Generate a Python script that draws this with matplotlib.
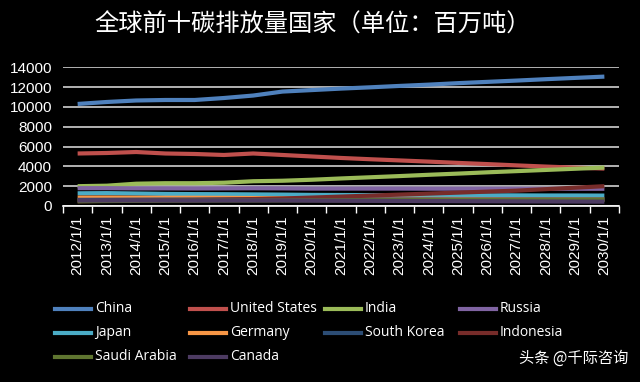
import matplotlib
matplotlib.use("Agg")
import matplotlib.pyplot as plt
from matplotlib.lines import Line2D

plt.rcParams['font.family'] = ['Noto Sans CJK SC', 'DejaVu Sans']

years = ["2012/1/1", "2013/1/1", "2014/1/1", "2015/1/1", "2016/1/1", "2017/1/1",
         "2018/1/1", "2019/1/1", "2020/1/1", "2021/1/1", "2022/1/1", "2023/1/1",
         "2024/1/1", "2025/1/1", "2026/1/1", "2027/1/1", "2028/1/1", "2029/1/1",
         "2030/1/1"]

china = [10300, 10500, 10650, 10700, 10700, 10900, 11150, 11550, 11700, 11850,
         11980, 12120, 12250, 12400, 12530, 12660, 12800, 12930, 13060]
united_states = [5300, 5350, 5450, 5300, 5250, 5150, 5300, 5150, 5000, 4850,
                 4720, 4600, 4480, 4350, 4230, 4100, 3980, 3870, 3780]
india = [2000, 2050, 2250, 2300, 2300, 2350, 2500, 2550, 2650, 2780,
         2900, 3020, 3150, 3270, 3400, 3520, 3640, 3760, 3880]
russia = [1800, 1800, 1780, 1780, 1770, 1780, 1790, 1780, 1760, 1760,
          1760, 1760, 1750, 1750, 1750, 1750, 1740, 1740, 1740]
japan = [1280, 1300, 1260, 1220, 1200, 1190, 1170, 1150, 1120, 1110,
         1100, 1100, 1090, 1080, 1080, 1070, 1060, 1060, 1050]
germany = [850, 860, 840, 830, 830, 820, 800, 780, 760, 750,
           740, 730, 720, 710, 700, 690, 680, 670, 660]
south_korea = [620, 630, 640, 650, 650, 660, 670, 670, 660, 660,
               660, 660, 660, 650, 650, 650, 650, 640, 640]
indonesia = [480, 520, 560, 590, 610, 650, 700, 760, 850, 950,
             1050, 1150, 1250, 1350, 1450, 1550, 1700, 1850, 2000]
saudi_arabia = [480, 500, 520, 540, 550, 560, 560, 570, 580, 580,
                590, 590, 600, 600, 610, 610, 620, 620, 630]
canada = [560, 560, 560, 560, 550, 560, 560, 560, 540, 530,
          520, 510, 500, 490, 480, 470, 460, 450, 440]

names = ["China", "United States", "India", "Russia", "Japan", "Germany",
         "South Korea", "Indonesia", "Saudi Arabia", "Canada"]
series = [china, united_states, india, russia, japan, germany,
          south_korea, indonesia, saudi_arabia, canada]
colors = ["#4F81BD", "#C0504D", "#9BBB59", "#8064A2", "#4BACC6", "#F79646",
          "#2C4D75", "#772C2A", "#5F7530", "#4D3B62"]
yticks = [0, 2000, 4000, 6000, 8000, 10000, 12000, 14000]

W, H = 640, 382
fig = plt.figure(figsize=(W / 100, H / 100), dpi=100, facecolor="black")
ax = fig.add_axes([63 / W, 1 - 206 / H, (619 - 63) / W, (206 - 67.3) / H])
ax.set_facecolor("black")

x = list(range(len(years)))
draw_order = [9, 8, 6, 5, 7, 4, 3, 2, 1, 0]
for i in draw_order:
    ax.plot(x, series[i], color=colors[i], lw=3.0, solid_capstyle="butt", zorder=3 + i * 0.01)

ax.set_xlim(-0.5, len(years) - 0.5)
ax.set_ylim(0, 14000)
ax.set_yticks(yticks)
ax.set_yticklabels([str(v) for v in yticks], family="Liberation Sans", fontsize=11, color="white")
ax.yaxis.grid(True, color="#d0d0d0", lw=1.2, zorder=1)
ax.tick_params(axis="y", length=0, pad=8)

ax.set_xticks([i - 0.5 for i in range(len(years) + 1)])
ax.set_xticklabels([])
ax.set_xticks(x, minor=True)
ax.set_xticklabels(years, minor=True, rotation=90, family="Liberation Sans", fontsize=11, color="white")
ax.tick_params(axis="x", which="major", length=5, width=1, color="white", direction="out")
ax.tick_params(axis="x", which="minor", length=0, pad=7)

for s in ["top", "right", "left"]:
    ax.spines[s].set_visible(False)
ax.spines["bottom"].set_color("white")
ax.spines["bottom"].set_linewidth(1.2)

fig.text(313 / W, 1 - 25 / H, "全球前十碳排放量国家（单位：百万吨）", ha="center", va="center",
         color="white", fontsize=17.5)

# legend laid out in an evenly spaced 4-column grid
col_x = [55, 190, 325, 460]
row_y = [309, 333, 357]
for i, name in enumerate(names):
    cx = col_x[i % 4]
    cy = row_y[i // 4]
    fig.add_artist(Line2D([cx / W, (cx + 36) / W], [1 - cy / H, 1 - cy / H],
                          color=colors[i], lw=3.0, transform=fig.transFigure))
    fig.text((cx + 40) / W, 1 - cy / H, name, ha="left", va="center",
             color="white", fontsize=10, family="Open Sans")

fig.text(628 / W, 1 - 358 / H, "头条 @千际咨询", ha="right", va="center",
         color="white", fontsize=11)

fig.savefig("out.png", dpi=100, facecolor="black")
